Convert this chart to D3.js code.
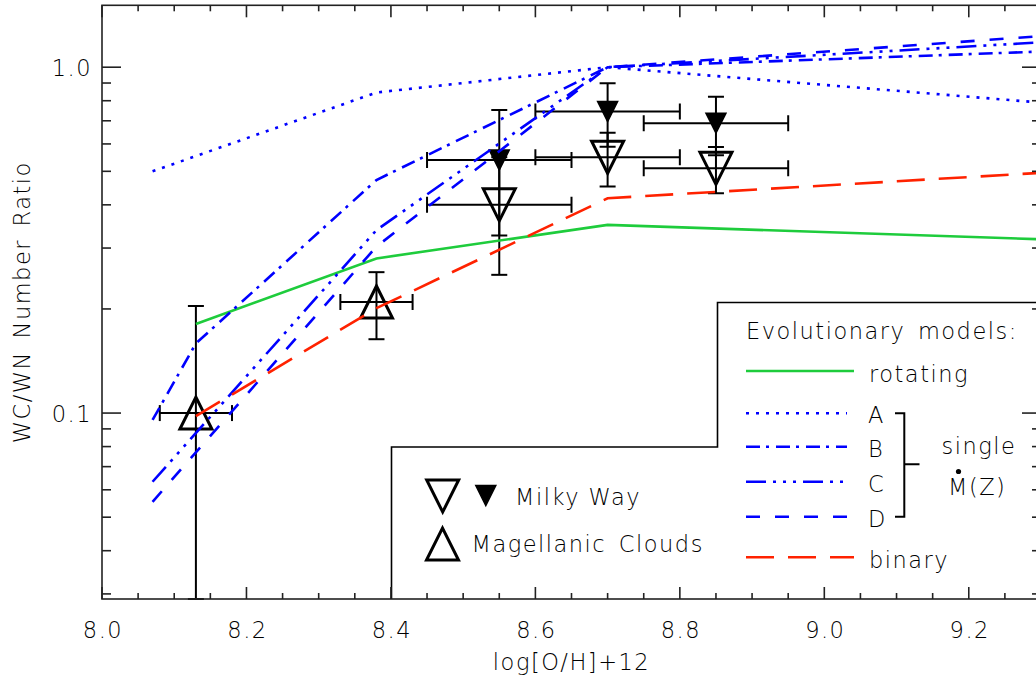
<!DOCTYPE html>
<html><head><meta charset="utf-8">
<script src="https://cdn.jsdelivr.net/npm/d3@7"></script>
<style>
html,body{margin:0;padding:0;background:#fff;}
svg{display:block;overflow:hidden;}
text{font-family:"DejaVu Sans","Liberation Sans",sans-serif;font-size:22.5px;font-weight:200;letter-spacing:1.5px;fill:#000;}
</style></head>
<body>
<svg id="chart" width="1036" height="680"></svg>
<script>
// ---------- data ----------
const xDomain = [8.0, 9.3];
const yDomain = [0.029, 1.51];
const xTicksMajor = [8.0, 8.2, 8.4, 8.6, 8.8, 9.0, 9.2];
const xTickLabels = ["8.0", "8.2", "8.4", "8.6", "8.8", "9.0", "9.2"];
const yTicksMajor = [0.1, 1.0];
const yTickLabels = ["0.1", "1.0"];

// model curves
const rotX = [8.13, 8.38, 8.70, 9.30];
const rotating = [0.181, 0.280, 0.350, 0.318];
const binX = [8.13, 8.38, 8.70, 9.30];
const binary = [0.098, 0.201, 0.418, 0.495];
const aX = [8.07, 8.38, 8.70, 9.30];
const singleA = [0.50, 0.845, 1.0, 0.79];
const bX = [8.07, 8.13, 8.38, 8.70, 9.30];
const singleB = [0.0955, 0.159, 0.472, 1.0, 1.11];
const cX = [8.07, 8.38, 8.70, 9.30];
const singleC = [0.0633, 0.338, 1.0, 1.18];
const dX = [8.07, 8.38, 8.70, 9.30];
const singleD = [0.0554, 0.303, 1.0, 1.23];

// observations
const mwX = [8.55, 8.70, 8.85];
const mwOpen = [0.400, 0.549, 0.510];
const mwOpenErr = [0.149, 0.097, 0.078];
const mwFilled = [0.539, 0.744, 0.689];
const mwFilledErr = [0.213, 0.155, 0.133];
const mwXErr = [0.10, 0.10, 0.10];
const mcX = [8.13, 8.38];
const mcY = [0.100, 0.2095];
const mcYErr = [0.104, 0.046];
const mcXErr = [0.05, 0.05];

// ---------- layout ----------
const L = 102, R = 1041, T = 5.3, B = 599;
const svg = d3.select("#chart");
const x = d3.scaleLinear().domain(xDomain).range([L, R]);
const y = d3.scaleLog().domain(yDomain).range([B, T]);

const BLUE = "#0000ff", GREEN = "#1ecc3c", RED = "#ff2200";

svg.append("defs").append("clipPath").attr("id", "clip")
  .append("rect").attr("x", L).attr("y", T - 2).attr("width", R - L).attr("height", B - T + 4);

// ---------- observations ----------
const obs = svg.append("g").attr("clip-path", "url(#clip)");
const cap = 8;
function errBars(xs, ys, yerr, xerr) {
  xs.forEach((xv, i) => {
    const yv = ys[i];
    const lo = Math.max(yv - yerr[i], yDomain[0]);
    const hi = yv + yerr[i];
    const g = obs.append("g").attr("stroke", "#000").attr("stroke-width", 2).attr("fill", "none");
    g.append("line").attr("x1", x(xv)).attr("x2", x(xv)).attr("y1", y(lo)).attr("y2", y(hi));
    g.append("line").attr("x1", x(xv) - cap).attr("x2", x(xv) + cap).attr("y1", y(lo)).attr("y2", y(lo));
    g.append("line").attr("x1", x(xv) - cap).attr("x2", x(xv) + cap).attr("y1", y(hi)).attr("y2", y(hi));
    g.append("line").attr("x1", x(xv - xerr[i])).attr("x2", x(xv + xerr[i])).attr("y1", y(yv)).attr("y2", y(yv));
    g.append("line").attr("x1", x(xv - xerr[i])).attr("x2", x(xv - xerr[i])).attr("y1", y(yv) - cap).attr("y2", y(yv) + cap);
    g.append("line").attr("x1", x(xv + xerr[i])).attr("x2", x(xv + xerr[i])).attr("y1", y(yv) - cap).attr("y2", y(yv) + cap);
  });
}
function triDown(g, cx, cy, s, filled) {
  g.append("path").attr("d", `M${cx - s},${cy - s}L${cx + s},${cy - s}L${cx},${cy + s}Z`)
    .attr("fill", filled ? "#000" : "none").attr("stroke", "#000")
    .attr("stroke-width", filled ? 1.5 : 3).attr("stroke-linejoin", "miter");
}
function triUp(g, cx, cy, s) {
  g.append("path").attr("d", `M${cx - s},${cy + s}L${cx + s},${cy + s}L${cx},${cy - s}Z`)
    .attr("fill", "none").attr("stroke", "#000").attr("stroke-width", 3);
}
errBars(mwX, mwOpen, mwOpenErr, mwXErr);
errBars(mwX, mwFilled, mwFilledErr, mwXErr);
errBars(mcX, mcY, mcYErr, mcXErr);
mwX.forEach((xv, i) => triDown(obs, x(xv), y(mwOpen[i]), 16, false));
mwX.forEach((xv, i) => triDown(obs, x(xv), y(mwFilled[i]), 10, true));
mcX.forEach((xv, i) => triUp(obs, x(xv), y(mcY[i]), 16));

// ---------- models ----------
const models = [
  {xs: rotX, ys: rotating, color: GREEN, dash: null, name: "rotating"},
  {xs: aX, ys: singleA, color: BLUE, dash: "3,7", name: "A"},
  {xs: bX, ys: singleB, color: BLUE, dash: "14,6,3,7", name: "B"},
  {xs: cX, ys: singleC, color: BLUE, dash: "20,7,3,7,3,7,3,7", name: "C"},
  {xs: dX, ys: singleD, color: BLUE, dash: "14,15", name: "D"},
  {xs: binX, ys: binary, color: RED, dash: "28,14", name: "binary"}
];
const line = d3.line().x(d => x(d[0])).y(d => y(d[1]));
const mg = svg.append("g").attr("clip-path", "url(#clip)");
models.forEach(m => {
  mg.append("path").datum(m.xs.map((v, i) => [v, m.ys[i]]))
    .attr("d", line).attr("fill", "none").attr("stroke", m.color)
    .attr("stroke-width", 2.6).attr("stroke-dasharray", m.dash);
});

// ---------- legend boxes ----------
const legX1 = 391.5, legY1 = 447, legX2 = 717.5, legY2 = 302.5;
svg.append("path")
  .attr("d", `M${legX1},${B}L${legX1},${legY1}L${legX2},${legY1}L${legX2},${legY2}L${R},${legY2}`)
  .attr("fill", "none").attr("stroke", "#000").attr("stroke-width", 1.6);

// model legend
svg.append("text").attr("x", 746).attr("y", 338.5).text("Evolutionary models:").style("word-spacing", "4px");
const legRows = [
  {m: 0, y: 371, len: 108, label: "rotating", ty: 381.5, tx: 869},
  {m: 1, y: 413.3, len: 101, label: "A", ty: 422.5, tx: 868},
  {m: 2, y: 446.7, len: 101, label: "B", ty: 456.5, tx: 868},
  {m: 3, y: 481.7, len: 101, label: "C", ty: 491.5, tx: 868},
  {m: 4, y: 516.7, len: 101, label: "D", ty: 526.5, tx: 868},
  {m: 5, y: 557.3, len: 108, label: "binary", ty: 567.5, tx: 869}
];
legRows.forEach(r => {
  const m = models[r.m];
  svg.append("line").attr("x1", 746).attr("x2", 746 + r.len).attr("y1", r.y).attr("y2", r.y)
    .attr("stroke", m.color).attr("stroke-width", 2.6).attr("stroke-dasharray", m.dash);
  svg.append("text").attr("x", r.tx).attr("y", r.ty).text(r.label);
});
// bracket
svg.append("path").attr("d", "M895,413.3H904.3V516.7H895M904.3,464.3H919.5")
  .attr("fill", "none").attr("stroke", "#000").attr("stroke-width", 2);
svg.append("text").attr("x", 941.5).attr("y", 454).text("single");
svg.append("text").attr("x", 948).attr("y", 495).text("M(Z)");
svg.append("circle").attr("cx", 958.5).attr("cy", 471.5).attr("r", 2.6).attr("fill", "#000");

// observation legend
const ol = svg.append("g");
triDown(ol, 442.7, 496, 16, false);
triDown(ol, 485.8, 495.5, 10, true);
ol.append("text").attr("x", 515).attr("y", 505).text("Milky Way");
triUp(ol, 442.5, 544, 16);
ol.append("text").attr("x", 471.5).attr("y", 551.5).text("Magellanic Clouds").style("word-spacing", "4px");

// ---------- axes ----------
const ax = svg.append("g").attr("stroke", "#222").attr("stroke-width", 1.6).attr("fill", "none");
ax.append("rect").attr("x", L).attr("y", T).attr("width", R - L).attr("height", B - T);
// x ticks
const xMinor = d3.range(8.05, 9.3, 0.05).filter(v => !xTicksMajor.some(m => Math.abs(m - v) < 1e-6));
xTicksMajor.forEach(v => {
  ax.append("line").attr("x1", x(v)).attr("x2", x(v)).attr("y1", B).attr("y2", B - 12);
  ax.append("line").attr("x1", x(v)).attr("x2", x(v)).attr("y1", T).attr("y2", T + 12);
});
xMinor.forEach(v => {
  ax.append("line").attr("x1", x(v)).attr("x2", x(v)).attr("y1", B).attr("y2", B - 6);
  ax.append("line").attr("x1", x(v)).attr("x2", x(v)).attr("y1", T).attr("y2", T + 6);
});
// y ticks
const yMinor = [0.03, 0.04, 0.05, 0.06, 0.07, 0.08, 0.09, 0.2, 0.3, 0.4, 0.5, 0.6, 0.7, 0.8, 0.9];
yTicksMajor.forEach(v => {
  ax.append("line").attr("x1", L).attr("x2", L + 19).attr("y1", y(v)).attr("y2", y(v));
  ax.append("line").attr("x1", R).attr("x2", R - 19).attr("y1", y(v)).attr("y2", y(v));
});
yMinor.forEach(v => {
  ax.append("line").attr("x1", L).attr("x2", L + 9).attr("y1", y(v)).attr("y2", y(v));
  ax.append("line").attr("x1", R).attr("x2", R - 9).attr("y1", y(v)).attr("y2", y(v));
});
// tick labels
xTicksMajor.forEach((v, i) => {
  svg.append("text").attr("x", x(v) + 1).attr("y", 638).attr("text-anchor", "middle").text(xTickLabels[i]);
});
yTicksMajor.forEach((v, i) => {
  svg.append("text").attr("x", 92).attr("y", y(v) + 9).attr("text-anchor", "end").text(yTickLabels[i]);
});
// axis titles
svg.append("text").attr("x", (L + R) / 2).attr("y", 670).attr("text-anchor", "middle").text("log[O/H]+12");
svg.append("text").attr("transform", `translate(30,${(T + B) / 2}) rotate(-90)`)
  .attr("text-anchor", "middle").text("WC/WN Number Ratio").style("word-spacing", "4px");
</script>
</body></html>
